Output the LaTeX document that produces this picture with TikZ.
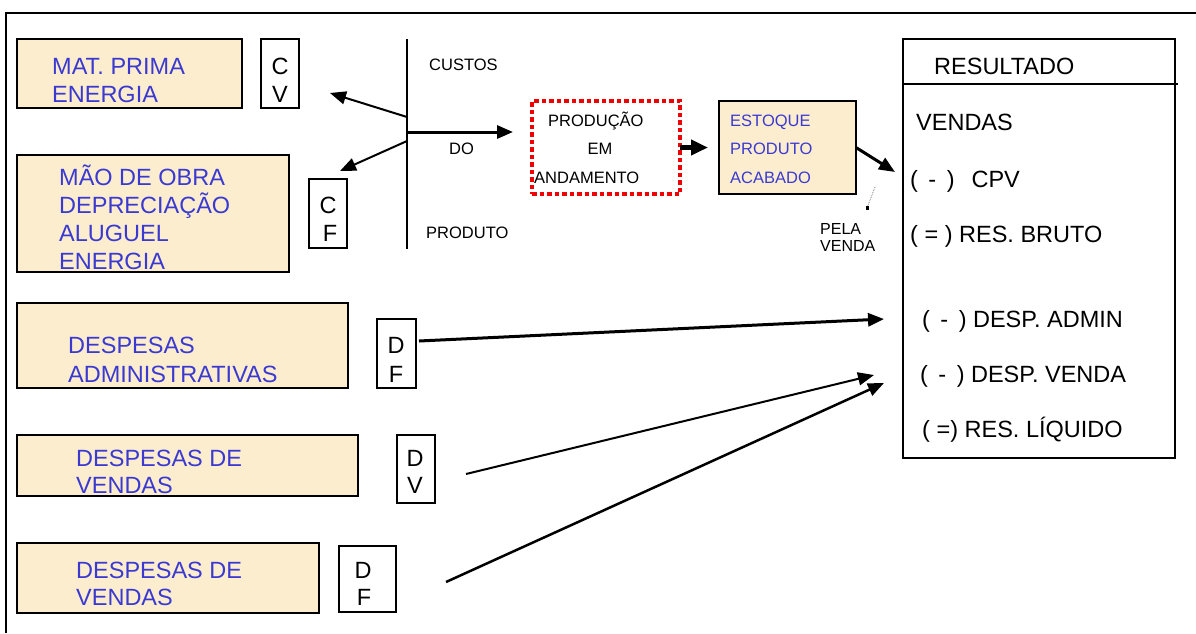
\documentclass[tikz,border=0pt]{standalone}
\usepackage{fontspec}
\setmainfont{Liberation Sans}
\usetikzlibrary{arrows.meta,calc}
\definecolor{beige}{RGB}{252,237,207}
\definecolor{ink}{RGB}{58,58,210}
\definecolor{redline}{RGB}{240,0,0}
\tikzset{
  panel/.style={draw=black, line width=1.5pt, fill=beige, inner sep=0pt, outer sep=0pt, anchor=north west},
  tag/.style={draw=black, line width=1.2pt, fill=white, inner sep=0pt, outer sep=0pt, anchor=north west},
  big/.style={font=\fontsize{23.5}{28}\selectfont, inner sep=0pt, anchor=base west},
  bigc/.style={font=\fontsize{23.5}{28}\selectfont, inner sep=0pt, anchor=base},
  small/.style={font=\fontsize{16.5}{20}\selectfont, inner sep=0pt, anchor=base west},
  tiny/.style={font=\fontsize{16}{17}\selectfont, inner sep=0pt, anchor=base west},
  blue/.style={text=ink},
  arr/.style={-{Triangle[length=16pt,width=13pt]}, line width=#1},
  arr/.default=2pt
}
\begin{document}
\begin{tikzpicture}[x=1pt,y=-1pt]
\useasboundingbox (0,0) rectangle (1196,633);
% outer frame (top and left edges)
\draw[line width=2pt] (6,633) -- (6,13) -- (1196,13);

% ---- cost panels ----
\node[panel, minimum width=225pt, minimum height=69pt] (mp) at (17,39) {};
\node[big, blue] (mp1) at (52,74.5) {MAT. PRIMA};
\node[big, blue] (mp2) at (52,102.5) {ENERGIA};
\node[tag, minimum width=38pt, minimum height=69pt] (cv) at (261,39) {};
\node[bigc] (cv1) at (280,74.5) {C};
\node[bigc] (cv2) at (280,102.5) {V};

\node[panel, minimum width=272pt, minimum height=117pt] (mo) at (17,155) {};
\node[big, blue] (mo1) at (59,185) {MÃO DE OBRA};
\node[big, blue] (mo2) at (59,213) {DEPRECIAÇÃO};
\node[big, blue] (mo3) at (59,241) {ALUGUEL};
\node[big, blue] (mo4) at (59,269) {ENERGIA};
\node[tag, minimum width=38pt, minimum height=69pt] (cf) at (309,179) {};
\node[bigc] (cf1) at (328,213) {C};
\node[bigc] (cf2) at (330,241.5) {F};

% ---- costs of the product axis ----
\coordinate (axt) at (407,39);
\coordinate (axb) at (407,249);
\draw[line width=1.6pt] (axt) -- (axb);
\coordinate (s1) at (407,117);
\coordinate (e1) at (330,93);
\coordinate (s2) at (407,141);
\coordinate (e2) at (340,171);
\coordinate (s3) at (407,132);
\coordinate (e3) at (513,132);
\draw[arr=2pt] (s1) -- (e1);
\draw[arr=2pt] (s2) -- (e2);
\draw[arr=3pt] (s3) -- (e3);
\node[small] (custos) at (429,70) {CUSTOS};
\node[small] (do) at (449,154) {DO};
\node[small] (produto) at (426,238) {PRODUTO};

% ---- production in progress ----
\node[draw=redline, line width=4pt, dash pattern=on 4.5pt off 3pt, inner sep=0pt, outer sep=0pt,
      minimum width=148pt, minimum height=93pt, anchor=north west] (pa) at (532,101) {};
\node[small] (pa1) at (548,126) {PRODUÇÃO};
\node[small, anchor=base] (pa2) at (600,154) {EM};
\node[small] (pa3) at (534,183) {ANDAMENTO};

\node[panel, minimum width=137pt, minimum height=93pt] (ea) at (719,101) {};
\node[small, blue] (ea1) at (730,126) {ESTOQUE};
\node[small, blue] (ea2) at (730,154) {PRODUTO};
\node[small, blue] (ea3) at (730,183) {ACABADO};

\draw[arr=5pt, -{Triangle[length=17pt,width=15pt]}, shorten >=11pt] (pa.east) -- (ea.west);
\coordinate (e5) at (895,172);
\draw[arr=3pt] (ea.east) -- (e5);

% small dotted tick above the sale label
\coordinate (tk1) at (875,187);
\coordinate (tk2) at (867,208);
\draw[gray, line width=0.8pt, densely dotted] (tk1) -- (tk2);
\fill[black] ($(tk2)+(-1.5,-2)$) rectangle ($(tk2)+(1.5,2)$);
\node[tiny] (pela) at (820,234) {PELA};
\node[tiny] (venda) at (820,251) {VENDA};

% ---- income statement ----
\node[draw=black, line width=1.5pt, inner sep=0pt, outer sep=0pt,
      minimum width=272pt, minimum height=419pt, anchor=north west] (res) at (903,39) {};
\draw[line width=1.5pt] ($(res.north west)+(0,45)$) -- ($(res.north east)+(3,45)$);
\node[big] (r0) at (934,74) {RESULTADO};
\node[big] (r1) at (916,130) {VENDAS};
\node[big] (r2) at (910,187) {( \,- \,)\ \ \,CPV};
\node[big] (r3) at (910,242) {( = ) RES. BRUTO};
\node[big] (r4) at (922,327) {( \,- \,) DESP. ADMIN};
\node[big] (r5) at (920,382) {( \,- \,) DESP. VENDA};
\node[big] (r6) at (922,437) {( =) RES. LÍQUIDO};

% ---- expense panels ----
\node[panel, minimum width=331pt, minimum height=85pt] (da) at (17,303) {};
\node[big, blue] (da1) at (68,353) {DESPESAS};
\node[big, blue] (da2) at (68,382) {ADMINISTRATIVAS};
\node[tag, minimum width=39pt, minimum height=69pt] (df1) at (377,319) {};
\node[bigc] (df1a) at (396,353) {D};
\node[bigc] (df1b) at (396,382) {F};

\node[panel, minimum width=341pt, minimum height=61pt] (dv) at (17,435) {};
\node[big, blue] (dv1) at (76,466) {DESPESAS DE};
\node[big, blue] (dv2) at (76,493.5) {VENDAS};
\node[tag, minimum width=38pt, minimum height=68pt] (dvt) at (397,435) {};
\node[bigc] (dvta) at (415,466) {D};
\node[bigc] (dvtb) at (415,493.5) {V};

\node[panel, minimum width=302pt, minimum height=70pt] (dw) at (17,543) {};
\node[big, blue] (dw1) at (76,578) {DESPESAS DE};
\node[big, blue] (dw2) at (76,605.5) {VENDAS};
\node[tag, minimum width=57pt, minimum height=66pt] (dft) at (339,546) {};
\node[bigc] (dfta) at (363,578) {D};
\node[bigc] (dftb) at (364,605.5) {F};

% ---- expense flows into the statement ----
\coordinate (s6) at (419,341);
\coordinate (e6) at (884,319);
\coordinate (s7) at (466,474);
\coordinate (e7) at (874,375);
\coordinate (s8) at (446,582);
\coordinate (e8) at (884,383);
\draw[arr=3pt] (s6) -- (e6);
\draw[arr=2pt] (s7) -- (e7);
\draw[arr=2.5pt] (s8) -- (e8);
\end{tikzpicture}
\end{document}
